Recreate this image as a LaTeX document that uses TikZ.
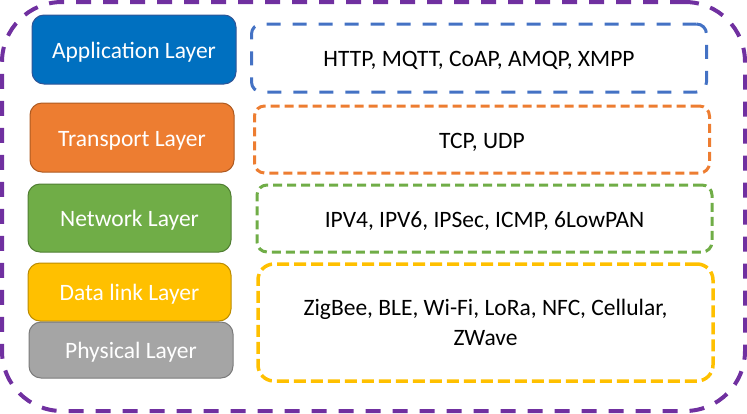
\documentclass[tikz,border=0pt]{standalone}
\usepackage{fontspec}
\setmainfont{Carlito}
\usepackage{tikz}
\usetikzlibrary{
    shapes,
    backgrounds,
    calc,
    positioning,
}

\definecolor{appBlue}{HTML}{0070C0}
\definecolor{appBlueDark}{HTML}{2F5597}
\definecolor{tpOrange}{HTML}{ED7D31}
\definecolor{tpOrangeDark}{HTML}{AE5A21}
\definecolor{netGreen}{HTML}{70AD47}
\definecolor{netGreenDark}{HTML}{507E32}
\definecolor{dlGold}{HTML}{FFC000}
\definecolor{dlGoldDark}{HTML}{BC8C00}
\definecolor{phyGray}{HTML}{A5A5A5}
\definecolor{phyGrayDark}{HTML}{7B7B7B}
\definecolor{protoBlue}{HTML}{4472C4}
\definecolor{stackPurple}{HTML}{7030A0}

\begin{document}
\begin{tikzpicture}[x=1pt,y=-1pt]

    \tikzstyle{commonNode}=[rectangle, align=center, font=\fontsize{23.5}{30}\selectfont]
    \tikzstyle{oneLine}=[text height=19pt, text depth=1.2pt]
    \tikzstyle{layer}=[commonNode, oneLine, rounded corners=12pt, text=white, line width=1pt, inner sep=0pt]
    \tikzstyle{protocols}=[commonNode, rounded corners=10pt, text=black, line width=3pt, inner sep=0pt]
    \tikzstyle{shortDash}=[dash pattern=on 9pt off 5pt]
    \tikzstyle{longDash}=[dash pattern=on 14pt off 12pt]

    \useasboundingbox (0,0) rectangle (747,413);

    \begin{scope}
        % Sizes
        \def \lwidth {204}
        \def \pwidth {455}

        % Whole stack
        \node at (373.5, 206.5) [commonNode, rounded corners=60pt, draw=stackPurple, line width=4pt,
            dash pattern=on 15pt off 12pt, minimum width=743, minimum height=409] (stack) {};

        % Layers
        \node at (134, 49.5)  [layer, fill=appBlue, draw=appBlueDark, minimum width=\lwidth, minimum height=69]  (AL)  {Application Layer};
        \node at (132, 137.5) [layer, fill=tpOrange, draw=tpOrangeDark, minimum width=\lwidth, minimum height=69] (TL)  {Transport Layer};
        \node at (129.5, 218) [layer, fill=netGreen, draw=netGreenDark, minimum width=203, minimum height=68]     (NL)  {Network Layer};
        \node at (129.5, 292) [layer, fill=dlGold, draw=dlGoldDark, minimum width=203, minimum height=58]         (DL)  {Data link Layer};
        \node at (131, 350)   [layer, fill=phyGray, draw=phyGrayDark, minimum width=\lwidth, minimum height=56]   (PL)  {Physical Layer};

        % Protocols
        \node at (479, 58)      [protocols, oneLine, draw=protoBlue, longDash, minimum width=\pwidth, minimum height=68] (ALp) {HTTP, MQTT, CoAP, AMQP, XMPP};
        \node at (482, 139.5)   [protocols, oneLine, draw=tpOrange, shortDash, minimum width=\pwidth, minimum height=67] (TLp) {TCP, UDP};
        \node at (484.5, 218.5) [protocols, oneLine, draw=netGreen, shortDash, minimum width=\pwidth, minimum height=67] (NLp) {IPV4, IPV6, IPSec, ICMP, 6LowPAN};
        \node at (485.5, 322.5) [protocols, draw=dlGold, rounded corners=16pt, line width=3.5pt, dash pattern=on 12pt off 5pt,
            minimum width=\pwidth, minimum height=117] (DLp) {ZigBee, BLE, Wi-Fi, LoRa, NFC, Cellular,\\ZWave};
    \end{scope}

\end{tikzpicture}
\end{document}
